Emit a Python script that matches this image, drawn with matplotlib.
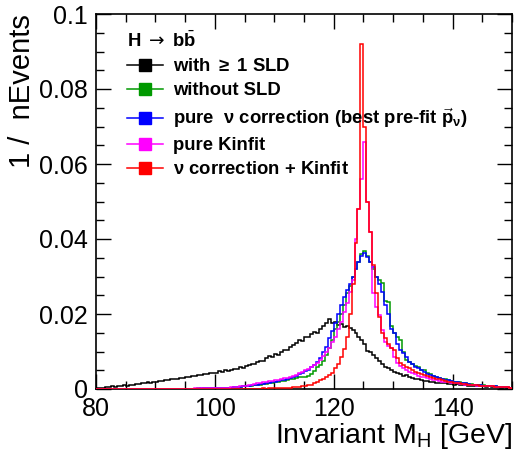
import numpy as np
import matplotlib
matplotlib.use("Agg")
import matplotlib.pyplot as plt
from matplotlib.lines import Line2D
from matplotlib.ticker import MultipleLocator

plt.rcParams['font.family'] = ['Liberation Sans', 'DejaVu Sans']
plt.rcParams['mathtext.fontset'] = 'custom'
plt.rcParams['mathtext.rm'] = 'Liberation Sans'
plt.rcParams['mathtext.it'] = 'Liberation Sans:italic'
plt.rcParams['mathtext.bf'] = 'Liberation Sans:bold'
plt.rcParams['mathtext.sf'] = 'DejaVu Sans'

# bin edges of the invariant mass histograms (GeV)
x_min, x_max, bin_w = 80, 150, 0.5
edges = np.arange(x_min, x_max + bin_w / 2, bin_w)

# with >= 1 SLD
black = [
    0.0003, 0.0004, 0.0003, 0.0006, 0.0005, 0.0007, 0.0006, 0.0009, 0.0008, 0.0010,
    0.0009, 0.0012, 0.0011, 0.0014, 0.0013, 0.0016, 0.0015, 0.0018, 0.0017, 0.0020,
    0.0019, 0.0022, 0.0021, 0.0024, 0.0023, 0.0027, 0.0026, 0.0028, 0.0030, 0.0029,
    0.0033, 0.0031, 0.0036, 0.0034, 0.0038, 0.0037, 0.0041, 0.0039, 0.0044, 0.0042,
    0.0044, 0.0047, 0.0046, 0.0050, 0.0049, 0.0052, 0.0054, 0.0053, 0.0058, 0.0056,
    0.0062, 0.0064, 0.0068, 0.0066, 0.0072, 0.0076, 0.0074, 0.0082, 0.0088, 0.0086,
    0.0094, 0.0092, 0.0100, 0.0105, 0.0103, 0.0112, 0.0118, 0.0124, 0.0132, 0.0128,
    0.0140, 0.0138, 0.0146, 0.0152, 0.0150, 0.0160, 0.0168, 0.0175, 0.0188, 0.0176,
    0.0180, 0.0170, 0.0174, 0.0165, 0.0168, 0.0162, 0.0158, 0.0150, 0.0140, 0.0132,
    0.0120, 0.0102, 0.0098, 0.0090, 0.0082, 0.0074, 0.0066, 0.0060, 0.0055, 0.0050,
    0.0046, 0.0043, 0.0040, 0.0036, 0.0037, 0.0032, 0.0030, 0.0027, 0.0026, 0.0024,
    0.0022, 0.0021, 0.0019, 0.0020, 0.0017, 0.0016, 0.0017, 0.0015, 0.0014, 0.0013,
    0.0012, 0.0013, 0.0011, 0.0010, 0.0011, 0.0009, 0.0008, 0.0009, 0.0008, 0.0007,
    0.0007, 0.0006, 0.0007, 0.0005, 0.0006, 0.0005, 0.0004, 0.0005, 0.0004, 0.0004,
]

# without SLD
green = [
    0.0000, 0.0000, 0.0000, 0.0000, 0.0000, 0.0000, 0.0000, 0.0000, 0.0000, 0.0000,
    0.0000, 0.0000, 0.0000, 0.0000, 0.0000, 0.0000, 0.0000, 0.0000, 0.0000, 0.0000,
    0.0000, 0.0000, 0.0000, 0.0001, 0.0000, 0.0001, 0.0001, 0.0001, 0.0001, 0.0001,
    0.0001, 0.0001, 0.0001, 0.0001, 0.0002, 0.0001, 0.0002, 0.0002, 0.0002, 0.0002,
    0.0002, 0.0002, 0.0003, 0.0003, 0.0004, 0.0004, 0.0005, 0.0005, 0.0006, 0.0007,
    0.0007, 0.0008, 0.0009, 0.0010, 0.0011, 0.0012, 0.0013, 0.0014, 0.0015, 0.0017,
    0.0018, 0.0019, 0.0021, 0.0022, 0.0024, 0.0026, 0.0028, 0.0030, 0.0031, 0.0032,
    0.0033, 0.0036, 0.0040, 0.0048, 0.0058, 0.0065, 0.0075, 0.0090, 0.0110, 0.0130,
    0.0160, 0.0178, 0.0200, 0.0225, 0.0255, 0.0275, 0.0300, 0.0320, 0.0340, 0.0360,
    0.0368, 0.0355, 0.0340, 0.0320, 0.0300, 0.0292, 0.0282, 0.0235, 0.0232, 0.0168,
    0.0150, 0.0140, 0.0130, 0.0100, 0.0078, 0.0072, 0.0068, 0.0062, 0.0058, 0.0052,
    0.0050, 0.0044, 0.0040, 0.0036, 0.0033, 0.0030, 0.0028, 0.0026, 0.0024, 0.0022,
    0.0020, 0.0019, 0.0018, 0.0016, 0.0015, 0.0014, 0.0013, 0.0012, 0.0011, 0.0011,
    0.0010, 0.0009, 0.0008, 0.0008, 0.0007, 0.0006, 0.0006, 0.0005, 0.0005, 0.0004,
]

# pure nu correction
blue = [
    0.0000, 0.0000, 0.0000, 0.0000, 0.0000, 0.0000, 0.0000, 0.0000, 0.0000, 0.0000,
    0.0000, 0.0000, 0.0000, 0.0000, 0.0000, 0.0000, 0.0000, 0.0000, 0.0000, 0.0000,
    0.0000, 0.0000, 0.0000, 0.0000, 0.0001, 0.0000, 0.0001, 0.0001, 0.0001, 0.0001,
    0.0001, 0.0001, 0.0001, 0.0001, 0.0001, 0.0002, 0.0002, 0.0002, 0.0002, 0.0002,
    0.0002, 0.0002, 0.0003, 0.0003, 0.0004, 0.0004, 0.0005, 0.0006, 0.0006, 0.0007,
    0.0008, 0.0009, 0.0010, 0.0011, 0.0012, 0.0013, 0.0014, 0.0016, 0.0017, 0.0019,
    0.0020, 0.0021, 0.0023, 0.0025, 0.0027, 0.0029, 0.0032, 0.0035, 0.0039, 0.0043,
    0.0048, 0.0052, 0.0058, 0.0065, 0.0072, 0.0082, 0.0098, 0.0112, 0.0135, 0.0155,
    0.0175, 0.0200, 0.0225, 0.0245, 0.0265, 0.0280, 0.0300, 0.0320, 0.0340, 0.0355,
    0.0362, 0.0352, 0.0340, 0.0325, 0.0300, 0.0280, 0.0260, 0.0225, 0.0200, 0.0160,
    0.0150, 0.0120, 0.0104, 0.0095, 0.0085, 0.0072, 0.0066, 0.0060, 0.0055, 0.0050,
    0.0045, 0.0041, 0.0038, 0.0034, 0.0031, 0.0029, 0.0027, 0.0025, 0.0023, 0.0022,
    0.0019, 0.0018, 0.0017, 0.0016, 0.0015, 0.0013, 0.0012, 0.0012, 0.0011, 0.0010,
    0.0009, 0.0009, 0.0008, 0.0007, 0.0007, 0.0006, 0.0006, 0.0005, 0.0005, 0.0004,
]

# pure Kinfit
magenta = [
    0.0000, 0.0000, 0.0000, 0.0000, 0.0000, 0.0000, 0.0000, 0.0000, 0.0000, 0.0000,
    0.0000, 0.0000, 0.0000, 0.0000, 0.0000, 0.0000, 0.0000, 0.0000, 0.0000, 0.0000,
    0.0000, 0.0000, 0.0000, 0.0001, 0.0001, 0.0001, 0.0001, 0.0001, 0.0001, 0.0001,
    0.0001, 0.0001, 0.0001, 0.0002, 0.0002, 0.0002, 0.0002, 0.0002, 0.0002, 0.0002,
    0.0002, 0.0003, 0.0003, 0.0004, 0.0004, 0.0005, 0.0005, 0.0006, 0.0007, 0.0008,
    0.0009, 0.0010, 0.0012, 0.0013, 0.0015, 0.0016, 0.0018, 0.0019, 0.0021, 0.0022,
    0.0024, 0.0025, 0.0027, 0.0029, 0.0030, 0.0033, 0.0035, 0.0038, 0.0042, 0.0046,
    0.0050, 0.0054, 0.0058, 0.0064, 0.0070, 0.0078, 0.0088, 0.0098, 0.0110, 0.0125,
    0.0140, 0.0160, 0.0180, 0.0205, 0.0230, 0.0260, 0.0290, 0.0400, 0.0480, 0.0560,
    0.0660, 0.0500, 0.0420, 0.0255, 0.0220, 0.0197, 0.0157, 0.0126, 0.0115, 0.0110,
    0.0086, 0.0070, 0.0062, 0.0055, 0.0050, 0.0046, 0.0042, 0.0039, 0.0036, 0.0033,
    0.0031, 0.0029, 0.0027, 0.0025, 0.0023, 0.0022, 0.0020, 0.0019, 0.0018, 0.0017,
    0.0016, 0.0015, 0.0014, 0.0013, 0.0012, 0.0011, 0.0011, 0.0010, 0.0009, 0.0009,
    0.0008, 0.0008, 0.0007, 0.0007, 0.0006, 0.0006, 0.0005, 0.0005, 0.0005, 0.0004,
]

# nu correction + Kinfit
red = [
    0.0000, 0.0000, 0.0000, 0.0000, 0.0000, 0.0000, 0.0000, 0.0000, 0.0000, 0.0000,
    0.0000, 0.0000, 0.0000, 0.0000, 0.0000, 0.0000, 0.0000, 0.0000, 0.0000, 0.0000,
    0.0000, 0.0000, 0.0000, 0.0000, 0.0000, 0.0000, 0.0000, 0.0000, 0.0000, 0.0000,
    0.0000, 0.0000, 0.0000, 0.0000, 0.0000, 0.0000, 0.0000, 0.0000, 0.0000, 0.0000,
    0.0000, 0.0000, 0.0000, 0.0000, 0.0000, 0.0001, 0.0000, 0.0001, 0.0001, 0.0001,
    0.0001, 0.0001, 0.0001, 0.0001, 0.0001, 0.0001, 0.0002, 0.0001, 0.0002, 0.0002,
    0.0002, 0.0002, 0.0003, 0.0003, 0.0004, 0.0004, 0.0005, 0.0005, 0.0006, 0.0007,
    0.0008, 0.0010, 0.0012, 0.0015, 0.0019, 0.0024, 0.0028, 0.0033, 0.0038, 0.0044,
    0.0055, 0.0068, 0.0085, 0.0108, 0.0140, 0.0200, 0.0280, 0.0390, 0.0480, 0.0920,
    0.0700, 0.0500, 0.0420, 0.0330, 0.0255, 0.0193, 0.0150, 0.0137, 0.0120, 0.0110,
    0.0104, 0.0082, 0.0070, 0.0064, 0.0058, 0.0055, 0.0050, 0.0046, 0.0043, 0.0040,
    0.0037, 0.0034, 0.0032, 0.0030, 0.0028, 0.0026, 0.0024, 0.0022, 0.0020, 0.0019,
    0.0017, 0.0016, 0.0015, 0.0014, 0.0013, 0.0012, 0.0011, 0.0010, 0.0010, 0.0009,
    0.0008, 0.0008, 0.0007, 0.0007, 0.0006, 0.0006, 0.0005, 0.0005, 0.0005, 0.0004,
]

series = [
    (black, '#000000', r'with $\mathbf{\geq}$ 1 SLD'),
    (green, '#009900', 'without SLD'),
    (blue, '#0000ff', r'pure  $\mathbf{\nu}$ correction (best pre-fit $\vec{\mathbf{p}}_{\mathbf{\nu}}$)'),
    (magenta, '#ff00ff', 'pure Kinfit'),
    (red, '#ff0000', r'$\mathbf{\nu}$ correction + Kinfit'),
]

fig = plt.figure(figsize=(5.14, 4.53), dpi=100)
ax = fig.add_axes([96 / 514, 1 - 389 / 453, 416 / 514, 375 / 453])

handles = []
for vals, col, lab in series:
    ax.stairs(vals, edges, color=col, lw=1.1, zorder=3)
    handles.append(Line2D([], [], color=col, lw=1.1, marker='s', markersize=8, label=lab))

ax.set_xlim(x_min, x_max)
ax.set_ylim(0, 0.1)

ax.xaxis.set_major_locator(MultipleLocator(20))
ax.xaxis.set_minor_locator(MultipleLocator(5))
ax.yaxis.set_major_locator(MultipleLocator(0.02))
ax.yaxis.set_minor_locator(MultipleLocator(0.005))
ax.tick_params(which='both', direction='in', top=True, right=True, width=1, labelsize=18)
ax.tick_params(which='major', length=11)
ax.tick_params(which='minor', length=6)
ax.tick_params(axis='x', pad=6)
ax.tick_params(axis='y', pad=6)
ax.yaxis.set_major_formatter(plt.FuncFormatter(lambda v, p: '0' if v == 0 else ('%g' % v)))
for s in ax.spines.values():
    s.set_linewidth(1.2)

ax.set_xlabel(r'Invariant M$_{\mathrm{H}}$ [GeV]', fontsize=20.5, loc='right', labelpad=0)
ax.set_ylabel('1 /  nEvents', fontsize=21, loc='top', labelpad=2)

leg = ax.legend(handles=handles, loc='upper left', bbox_to_anchor=(0.075, 0.955),
                frameon=False, prop={'weight': 'bold', 'size': 13.3},
                title=r'H $\mathsf{\rightarrow}$ b$\bar{\mathbf{b}}$',
                title_fontproperties={'weight': 'bold', 'size': 13.3},
                alignment='left', handlelength=1.95, handletextpad=0.55,
                labelspacing=0.38, borderaxespad=0, borderpad=0)

fig.savefig('out.png', dpi=100)
